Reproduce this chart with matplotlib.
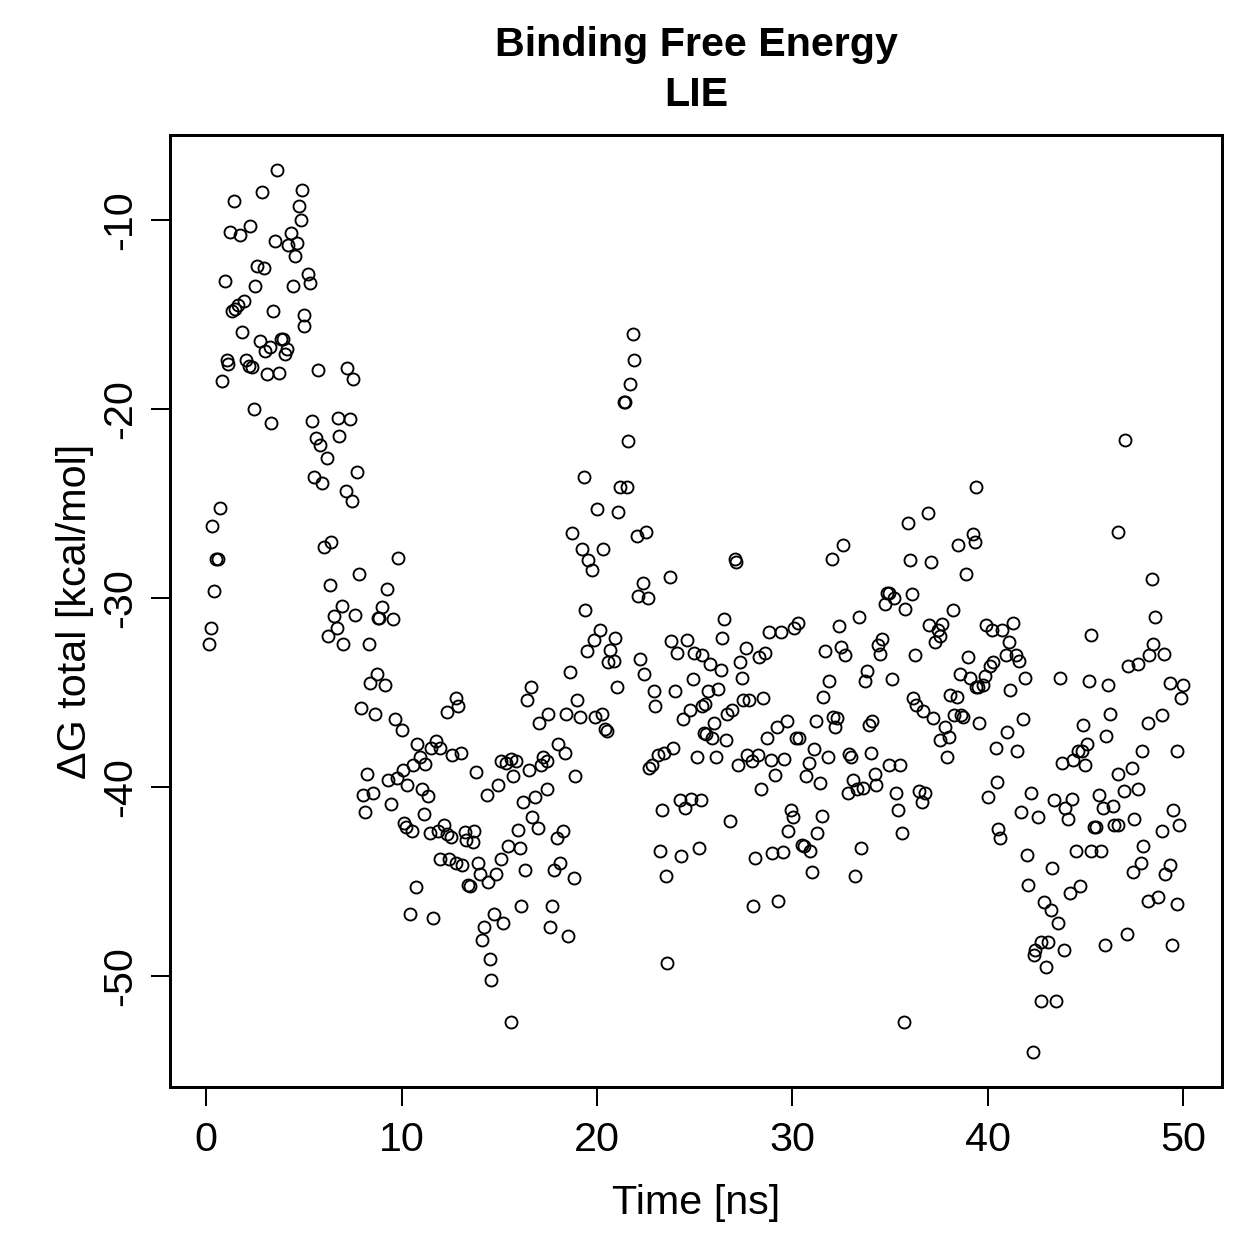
import numpy as np
import matplotlib
matplotlib.use("Agg")
import matplotlib.pyplot as plt

plt.rcParams['font.family'] = ['Liberation Sans', 'DejaVu Sans']
plt.rcParams['axes.unicode_minus'] = False

# (time [ns], dG total [kcal/mol]), by 5 ns stretch
seg_00_05 = [(0.14, -32.4), (0.24, -31.6), (0.31, -26.2), (0.42, -29.6), (0.5, -27.9), (0.6, -27.9),
             (0.73, -25.2), (0.83, -18.5), (0.94, -13.2), (1.06, -17.4), (1.11, -17.6), (1.23, -10.6),
             (1.33, -14.8), (1.43, -9.0), (1.45, -14.7), (1.65, -14.5), (1.72, -10.8), (1.84, -15.9),
             (1.93, -14.25), (2.05, -17.4), (2.17, -17.7), (2.22, -10.3), (2.35, -17.75), (2.44, -20.0),
             (2.52, -13.5), (2.61, -12.4), (2.73, -16.4), (2.83, -8.5), (2.95, -12.5), (3.03, -16.9),
             (3.1, -18.15), (3.26, -16.7), (3.34, -20.7), (3.43, -14.8), (3.53, -11.1), (3.63, -7.35),
             (3.75, -18.1), (3.82, -16.3), (3.92, -16.3), (4.04, -17.1), (4.13, -16.8), (4.18, -11.3),
             (4.35, -10.65), (4.44, -13.45), (4.52, -11.9), (4.64, -11.2), (4.74, -9.24), (4.83, -10.0),
             (4.91, -8.4), (4.98, -15.0)]
seg_05_10 = [(5.03, -15.6), (5.2, -12.85), (5.3, -13.3), (5.42, -20.6), (5.51, -23.6), (5.61, -21.5),
             (5.73, -17.9), (5.82, -21.9), (5.94, -23.9), (6.04, -27.3), (6.16, -22.6), (6.24, -32.0),
             (6.33, -29.3), (6.41, -27.0), (6.53, -30.95), (6.67, -31.55), (6.72, -20.44), (6.81, -21.4),
             (6.93, -30.4), (7.01, -32.4), (7.15, -24.3), (7.2, -17.8), (7.35, -20.5), (7.44, -24.85),
             (7.5, -18.4), (7.64, -30.9), (7.73, -23.3), (7.81, -28.7), (7.92, -35.8), (8.03, -40.4),
             (8.15, -41.3), (8.24, -39.3), (8.33, -32.4), (8.38, -34.5), (8.55, -40.3), (8.63, -36.1),
             (8.75, -34.0), (8.8, -31.05), (8.86, -31.05), (9.02, -30.45), (9.14, -34.6), (9.23, -29.5),
             (9.31, -39.6), (9.45, -40.9), (9.54, -31.1), (9.66, -36.4), (9.77, -39.5), (9.83, -27.85),
             (10.0, -36.97)]
seg_10_15 = [(10.05, -39.1), (10.13, -41.9), (10.25, -42.1), (10.3, -39.9), (10.42, -46.7), (10.54, -42.3),
             (10.59, -38.8), (10.73, -45.3), (10.81, -37.7), (10.93, -38.4), (11.02, -40.1), (11.14, -41.4),
             (11.22, -38.75), (11.36, -40.45), (11.45, -42.4), (11.5, -37.9), (11.62, -46.9), (11.74, -37.55),
             (11.84, -42.3), (11.96, -37.9), (11.99, -43.8), (12.17, -42.0), (12.3, -42.5), (12.3, -36.0),
             (12.42, -43.8), (12.52, -42.65), (12.6, -38.3), (12.76, -44.0), (12.8, -35.3), (12.9, -35.7),
             (13.03, -38.2), (13.1, -44.1), (13.24, -42.35), (13.32, -42.8), (13.4, -45.2), (13.5, -45.25),
             (13.63, -42.9), (13.72, -42.3), (13.83, -39.2), (13.92, -44.0), (14.0, -44.6), (14.12, -48.1),
             (14.23, -47.4), (14.35, -40.4), (14.43, -45.0), (14.52, -49.1), (14.6, -50.2), (14.72, -46.7),
             (14.81, -44.6), (14.94, -39.9)]
seg_15_20 = [(15.08, -38.6), (15.11, -43.8), (15.2, -47.2), (15.37, -38.7), (15.46, -43.1), (15.6, -38.5),
             (15.62, -52.4), (15.71, -39.4), (15.88, -38.6), (15.97, -42.25), (16.05, -43.2), (16.1, -46.3),
             (16.22, -40.8), (16.3, -44.4), (16.44, -35.4), (16.51, -39.1), (16.62, -34.7), (16.68, -41.6),
             (16.82, -40.5), (16.96, -42.15), (17.03, -36.6), (17.13, -38.85), (17.25, -38.4), (17.42, -38.6),
             (17.42, -40.1), (17.5, -36.1), (17.59, -47.4), (17.71, -46.3), (17.81, -44.4), (17.96, -42.7),
             (18.01, -37.7), (18.13, -44.0), (18.27, -42.3), (18.36, -38.2), (18.44, -36.1), (18.53, -47.9),
             (18.61, -33.9), (18.7, -26.55), (18.83, -44.8), (18.9, -39.4), (19.0, -35.4), (19.12, -36.3),
             (19.24, -27.4), (19.35, -23.6), (19.41, -30.6), (19.51, -32.8), (19.55, -28.0), (19.75, -28.5),
             (19.86, -32.2), (19.89, -36.3)]
seg_20_25 = [(20.01, -25.3), (20.15, -31.7), (20.27, -36.1), (20.32, -27.4), (20.4, -36.9), (20.5, -37.0),
             (20.57, -33.4), (20.68, -32.75), (20.85, -33.3), (20.93, -32.1), (21.02, -34.7), (21.1, -25.45),
             (21.19, -24.1), (21.36, -19.6), (21.46, -19.6), (21.56, -24.1), (21.61, -21.7), (21.7, -18.65),
             (21.84, -16.0), (21.92, -17.4), (22.04, -26.7), (22.09, -29.9), (22.21, -33.2), (22.35, -29.2),
             (22.43, -34.0), (22.52, -26.5), (22.6, -30.0), (22.64, -39.0), (22.81, -38.8), (22.94, -34.9),
             (22.98, -35.7), (23.15, -38.3), (23.23, -43.4), (23.32, -41.2), (23.44, -38.2), (23.53, -44.7),
             (23.6, -49.3), (23.75, -28.9), (23.8, -32.25), (23.9, -37.9), (24.0, -34.9), (24.09, -32.9),
             (24.26, -40.7), (24.31, -43.65), (24.43, -36.4), (24.51, -41.1), (24.6, -32.2), (24.77, -35.9),
             (24.82, -40.6), (24.91, -34.3), (24.99, -32.9)]
seg_25_30 = [(25.1, -38.4), (25.2, -43.2), (25.32, -40.7), (25.37, -33.0), (25.4, -35.7), (25.5, -37.15),
             (25.54, -35.6), (25.59, -37.2), (25.7, -34.9), (25.79, -33.5), (25.88, -37.4), (26.01, -36.6),
             (26.1, -38.4), (26.2, -34.8), (26.34, -33.8), (26.39, -32.1), (26.5, -31.1), (26.61, -37.5),
             (26.65, -36.1), (26.82, -41.8), (26.9, -35.9), (27.05, -27.9), (27.12, -28.1), (27.21, -38.8),
             (27.33, -33.4), (27.42, -34.2), (27.5, -35.4), (27.62, -32.65), (27.67, -38.3), (27.79, -35.4),
             (27.96, -38.6), (28.01, -46.3), (28.1, -43.75), (28.26, -38.3), (28.3, -33.1), (28.4, -40.1),
             (28.52, -35.3), (28.61, -32.9), (28.7, -37.4), (28.81, -31.8), (28.92, -38.55), (28.98, -43.5),
             (29.12, -39.35), (29.2, -36.8), (29.29, -46.0), (29.43, -31.8), (29.51, -43.45), (29.6, -38.5),
             (29.72, -36.5), (29.8, -42.3), (29.93, -41.2)]
seg_30_35 = [(30.02, -41.6), (30.09, -31.6), (30.19, -37.4), (30.28, -31.3), (30.35, -37.4), (30.49, -43.05),
             (30.6, -43.1), (30.7, -39.4), (30.83, -38.7), (30.91, -43.4), (31.0, -44.5), (31.12, -38.0),
             (31.22, -36.5), (31.28, -42.4), (31.42, -39.8), (31.51, -41.55), (31.59, -35.25), (31.68, -32.8),
             (31.82, -38.4), (31.9, -34.4), (32.03, -27.9), (32.07, -36.3), (32.19, -36.8), (32.28, -36.35),
             (32.41, -31.45), (32.5, -32.6), (32.62, -27.2), (32.7, -33.0), (32.84, -40.3), (32.92, -38.25),
             (33.0, -38.4), (33.13, -39.6), (33.2, -44.7), (33.3, -40.1), (33.42, -31.0), (33.5, -43.2),
             (33.6, -40.05), (33.73, -34.4), (33.81, -33.85), (33.9, -36.7), (34.02, -38.2), (34.07, -36.5),
             (34.24, -39.3), (34.29, -39.9), (34.41, -32.5), (34.5, -32.96), (34.61, -32.15), (34.72, -30.3),
             (34.84, -29.7), (34.95, -29.7), (34.97, -38.85)]
seg_35_40 = [(35.09, -34.3), (35.23, -30.0), (35.31, -40.3), (35.43, -41.2), (35.52, -38.8), (35.6, -42.4),
             (35.72, -52.4), (35.77, -30.55), (35.9, -26.0), (36.03, -28.0), (36.12, -29.8), (36.2, -35.3),
             (36.3, -33.0), (36.33, -35.65), (36.5, -40.2), (36.62, -40.8), (36.68, -35.97), (36.8, -40.3),
             (36.92, -25.5), (37.02, -31.4), (37.09, -28.1), (37.22, -36.35), (37.31, -32.3), (37.48, -31.7),
             (37.55, -32.0), (37.56, -37.5), (37.65, -31.35), (37.82, -36.8), (37.9, -38.4), (38.04, -37.35),
             (38.08, -35.1), (38.21, -30.6), (38.3, -36.2), (38.42, -35.2), (38.5, -27.2), (38.57, -34.0),
             (38.64, -36.2), (38.76, -36.3), (38.9, -28.7), (39.01, -33.1), (39.1, -34.2), (39.24, -26.6),
             (39.35, -27.0), (39.41, -24.1), (39.41, -34.7), (39.53, -34.7), (39.58, -36.6), (39.75, -34.6),
             (39.87, -34.1), (39.92, -31.4)]
seg_40_45 = [(40.04, -40.5), (40.12, -33.6), (40.21, -31.7), (40.29, -33.4), (40.43, -37.9), (40.5, -39.75),
             (40.52, -42.2), (40.63, -42.7), (40.72, -31.7), (40.93, -33.0), (41.01, -37.1), (41.1, -32.3),
             (41.16, -34.85), (41.32, -31.3), (41.44, -33.0), (41.5, -38.1), (41.6, -33.3), (41.71, -41.3),
             (41.83, -36.4), (41.91, -34.2), (42.0, -43.6), (42.08, -45.2), (42.2, -40.3), (42.31, -54.0),
             (42.39, -48.9), (42.43, -48.6), (42.6, -41.6), (42.72, -51.3), (42.73, -48.2), (42.9, -46.1),
             (42.99, -49.5), (43.11, -48.2), (43.23, -46.5), (43.28, -44.3), (43.41, -40.7), (43.49, -51.3),
             (43.59, -47.2), (43.71, -34.2), (43.79, -38.7), (43.91, -48.6), (43.96, -41.1), (44.1, -41.7),
             (44.22, -45.6), (44.3, -40.6), (44.39, -38.55), (44.51, -43.4), (44.61, -38.1), (44.73, -45.25),
             (44.81, -38.1), (44.9, -36.7), (44.98, -38.85)]
seg_45_50 = [(45.07, -37.7), (45.19, -34.4), (45.28, -31.97), (45.29, -43.4), (45.45, -42.1), (45.55, -42.1),
             (45.7, -40.4), (45.8, -43.4), (45.92, -41.1), (46.01, -48.35), (46.05, -37.3), (46.18, -34.6),
             (46.26, -36.1), (46.43, -41.0), (46.48, -42.0), (46.66, -39.3), (46.69, -26.5), (46.69, -42.0),
             (46.96, -40.2), (47.03, -21.6), (47.12, -47.75), (47.17, -33.6), (47.37, -39.0), (47.43, -44.5),
             (47.51, -41.7), (47.67, -40.1), (47.71, -33.5), (47.83, -44.0), (47.92, -38.1), (47.94, -43.1),
             (48.2, -36.6), (48.22, -46.0), (48.28, -33.0), (48.39, -29.0), (48.48, -32.4), (48.56, -31.0),
             (48.73, -45.8), (48.91, -42.3), (48.92, -36.2), (49.0, -32.97), (49.08, -44.6), (49.31, -34.5),
             (49.34, -44.1), (49.42, -48.35), (49.5, -41.2), (49.68, -38.1), (49.71, -46.2), (49.81, -42.0),
             (49.9, -35.3), (50.0, -34.6)]

segments = [seg_00_05, seg_05_10, seg_10_15, seg_15_20, seg_20_25,
            seg_25_30, seg_30_35, seg_35_40, seg_40_45, seg_45_50]
time_ns = np.array([p[0] for s in segments for p in s])
dg_total = np.array([p[1] for s in segments for p in s])

x_ticks = [0, 10, 20, 30, 40, 50]
y_ticks = [-50, -40, -30, -20, -10]

W = 1259
fig = plt.figure(figsize=(W / 180, W / 180), dpi=180)
ax = fig.add_axes([170 / W, 1 - 1087 / W, (1222 - 170) / W, (1087 - 135) / W])

ax.plot(time_ns, dg_total, 'o', ms=4.8, mfc='none', mec='black', mew=0.75)

# R style 4% padding
xr = time_ns.max() - time_ns.min()
yr = dg_total.max() - dg_total.min()
ax.set_xlim(time_ns.min() - 0.04 * xr, time_ns.max() + 0.04 * xr)
ax.set_ylim(dg_total.min() - 0.04 * yr, dg_total.max() + 0.04 * yr)

ax.set_xticks(x_ticks)
ax.set_xticklabels([str(v) for v in x_ticks])
ax.set_yticks(y_ticks)
ax.set_yticklabels([str(v) for v in y_ticks], rotation=90, va='center')
ax.tick_params(length=7.5, width=0.8, labelsize=16.5, color='black')
ax.tick_params(axis='x', pad=6)
ax.tick_params(axis='y', pad=5)
for sp in ax.spines.values():
    sp.set_linewidth(1.2)

cx = 696 / W
fig.text(cx, 1 - 45 / W, 'Binding Free Energy', ha='center', va='center', fontsize=16.5, fontweight='bold')
fig.text(cx, 1 - 95 / W, 'LIE', ha='center', va='center', fontsize=16.5, fontweight='bold')
fig.text(cx, 1 - 1203 / W, 'Time [ns]', ha='center', va='center', fontsize=16.5)
fig.text(75 / W, 1 - 611 / W, 'ΔG total [kcal/mol]', ha='center', va='center', rotation=90, fontsize=16.5)

fig.savefig('out.png', dpi=180)
